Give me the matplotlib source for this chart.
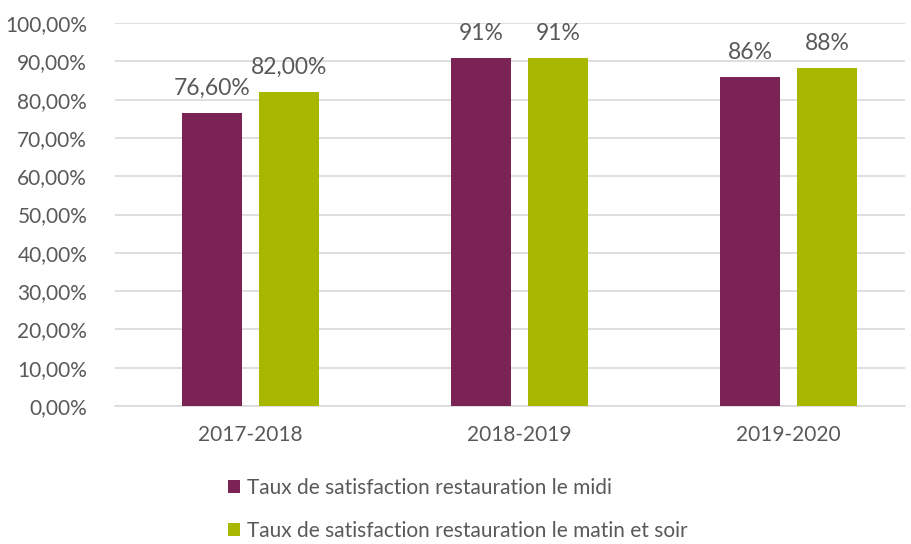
import matplotlib.pyplot as plt
import numpy as np

years = ["2017-2018", "2018-2019", "2019-2020"]
midi = [76.6, 90.9, 86.0]
matin_soir = [82.0, 90.9, 88.3]
midi_labels = ["76,60%", "91%", "86%"]
matin_labels = ["82,00%", "91%", "88%"]
series_names = ["Taux de satisfaction restauration le midi",
                "Taux de satisfaction restauration le matin et soir"]

purple = "#7B2355"
green = "#A8B800"
txt = "#595959"

plt.rcParams['font.family'] = ['Lato', 'DejaVu Sans']

fig = plt.figure(figsize=(9.12, 5.44), dpi=100)
ax = fig.add_axes([115/912, 1-406/544, 790/912, 383/544])

x = np.arange(len(years))
w = 0.223
off = 0.143
b1 = ax.bar(x - off, midi, w, color=purple, label=series_names[0], zorder=3)
b2 = ax.bar(x + off, matin_soir, w, color=green, label=series_names[1], zorder=3)

for bars, labs in ((b1, midi_labels), (b2, matin_labels)):
    for r, lab in zip(bars, labs):
        ax.text(r.get_x() + r.get_width()/2, r.get_height() + 3.6, lab,
                ha='center', va='bottom', fontsize=16.5, color=txt)

ax.set_xlim(-0.504, 2.433)
ax.set_ylim(0, 100)
ax.set_yticks(np.arange(0, 101, 10))
ax.set_yticklabels([f"{v},00%" for v in range(0, 101, 10)])
ax.set_xticks(x)
ax.set_xticklabels(years)
ax.tick_params(axis='both', length=0, labelsize=15, colors=txt)
ax.tick_params(axis='y', pad=20)
ax.tick_params(axis='x', pad=14)
ax.yaxis.grid(True, color="#D9D9D9", linewidth=1.2, zorder=0)
for s in ['top', 'right', 'left']:
    ax.spines[s].set_visible(False)
ax.spines['bottom'].set_color("#D9D9D9")
ax.spines['bottom'].set_linewidth(1.2)

fig.legend(handles=[b1, b2], loc='upper left', bbox_to_anchor=(228/912, 1-478/544),
           ncol=1, frameon=False, fontsize=15, labelcolor=txt,
           handlelength=0.6, handleheight=0.6, handletextpad=0.3,
           labelspacing=1.1, borderaxespad=0, borderpad=0)

fig.savefig("out.png", dpi=100)
